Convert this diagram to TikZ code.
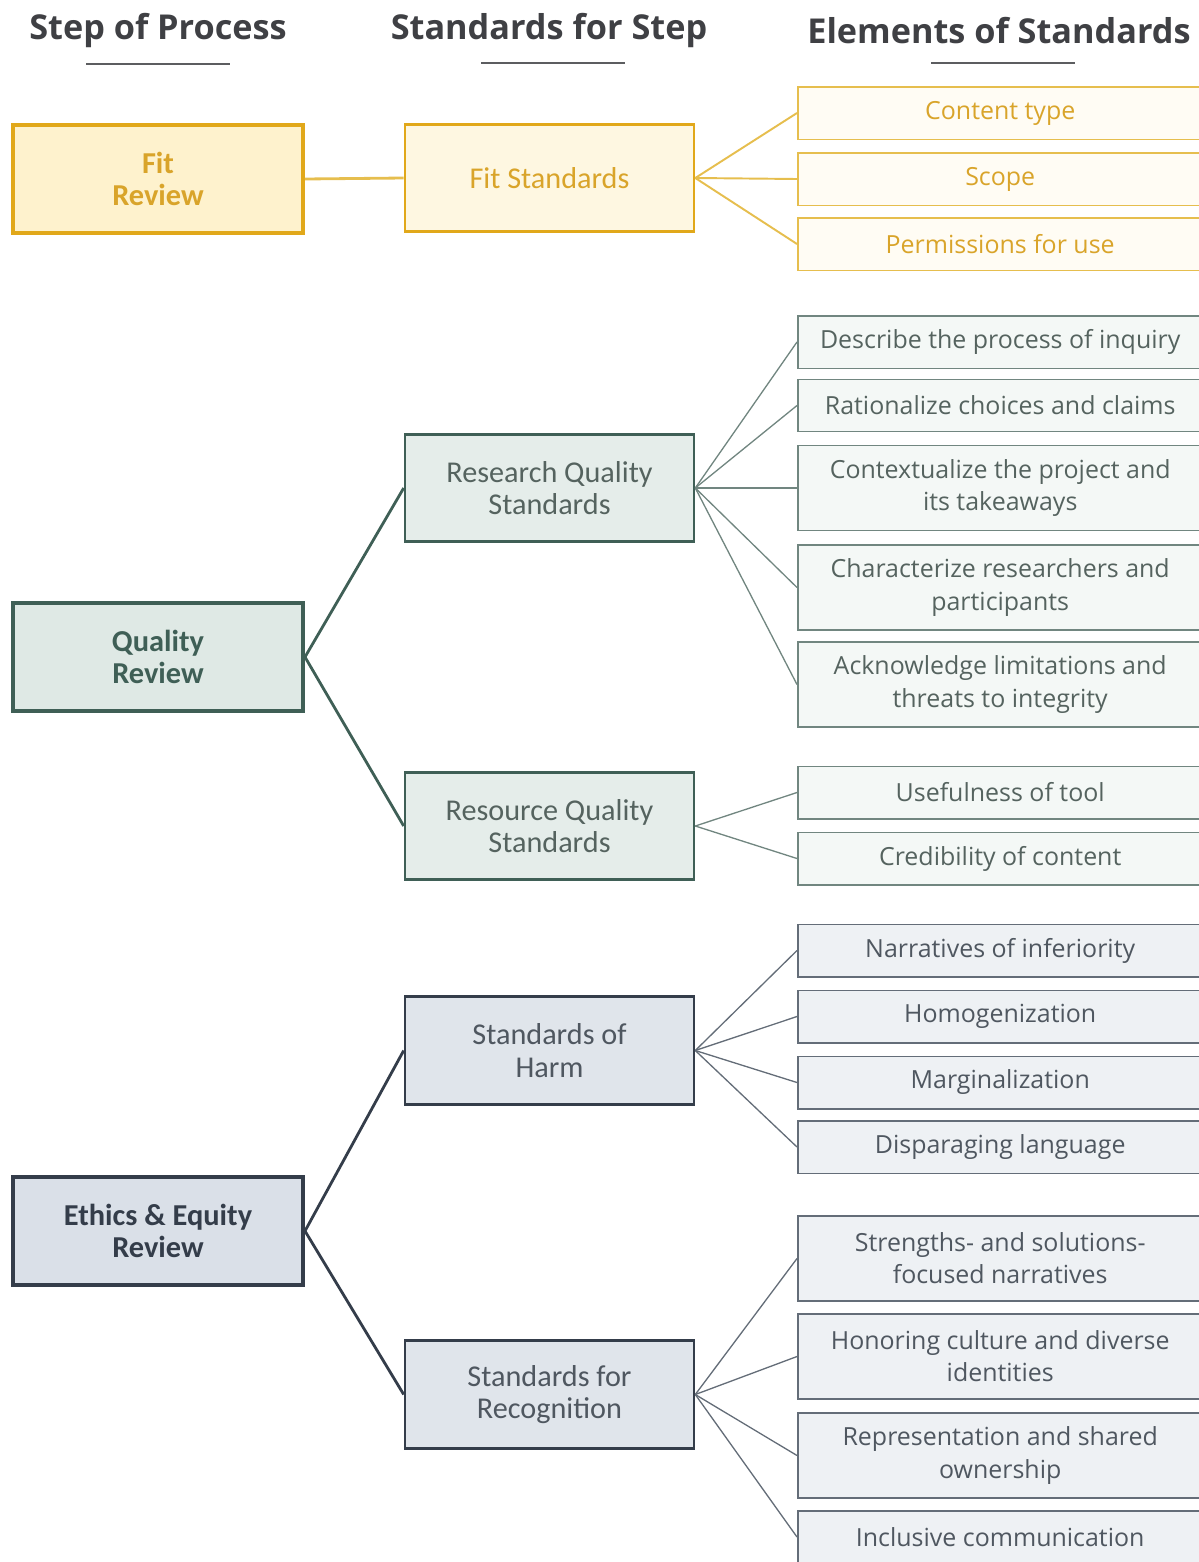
\documentclass[tikz,border=0pt]{standalone}
\usepackage{fontspec}
\setmainfont{Open Sans}
\newfontfamily\boxfont{Carlito}
\usetikzlibrary{calc}

\definecolor{headgray}{HTML}{3F4044}
\definecolor{fitdark}{HTML}{E1A81A}
\definecolor{fitfill}{HTML}{FEF2CD}
\definecolor{fittext}{HTML}{D9A42A}
\definecolor{fitline}{HTML}{E6BE4E}
\definecolor{fitpale}{HTML}{FFFCF4}
\definecolor{qdark}{HTML}{3F5F56}
\definecolor{qfill}{HTML}{DFE9E5}
\definecolor{qline}{HTML}{718680}
\definecolor{qpale}{HTML}{F4F8F6}
\definecolor{qtext}{HTML}{55635F}
\definecolor{edark}{HTML}{343D4A}
\definecolor{efill}{HTML}{DAE0E8}
\definecolor{eline}{HTML}{646D78}
\definecolor{epale}{HTML}{EEF1F4}
\definecolor{etext}{HTML}{4F5760}

\tikzset{
  header/.style={font=\fontsize{19.5}{23}\selectfont\bfseries, text=headgray},
  headrule/.style={draw=headgray!85, line width=1.1pt},
  stepbox/.style={rectangle, minimum width=5.8cm, minimum height=2.16cm,
    line width=2.3pt, align=center, inner sep=2pt,
    font=\boxfont\fontsize{17.3}{18.5}\selectfont\bfseries},
  stdbox/.style={rectangle, minimum width=5.78cm, minimum height=2.15cm,
    line width=1.5pt, align=center, inner sep=2pt,
    font=\boxfont\fontsize{17.2}{18.5}\selectfont},
  elembox/.style={rectangle, anchor=west, minimum width=8.1cm, minimum height=1.05cm,
    line width=0.85pt, align=center, inner sep=2pt,
    font=\fontsize{14.2}{18.3}\selectfont},
  tallbox/.style={elembox, minimum height=1.7cm},
  fitstep/.style={stepbox, draw=fitdark, fill=fitfill, text=fittext},
  fitstd/.style={stdbox, draw=fitdark, fill=fitfill!60, text=fittext},
  fitelem/.style={draw=fitline, fill=fitpale, text=fittext},
  qstep/.style={stepbox, draw=qdark, fill=qfill, text=qdark},
  qstd/.style={stdbox, draw=qdark, fill=qfill!80, text=qtext},
  qelem/.style={draw=qline, fill=qpale, text=qtext},
  estep/.style={stepbox, draw=edark, fill=efill, text=edark},
  estd/.style={stdbox, draw=edark, fill=efill!85, text=etext},
  eelem/.style={draw=eline, fill=epale, text=etext},
  fitlink/.style={draw=fitline, line width=1.1pt},
  qlink/.style={draw=qdark, line width=1.6pt},
  qthin/.style={draw=qline, line width=0.75pt},
  elink/.style={draw=edark, line width=1.6pt},
  ethin/.style={draw=eline, line width=0.75pt}
}

\begin{document}
\begin{tikzpicture}[x=0.02cm, y=-0.02cm]
  \useasboundingbox (0,0) rectangle (1199,1562);

  % column headings
  \node[header] (hstep) at (158,31) {Step of Process};
  \node[header] (hstd) at (549,31) {Standards for Step};
  \node[header] (helem) at (999,31) {Elements of Standards};
  \draw[headrule] (86,64) -- (230,64);
  \draw[headrule] (481,63) -- (625,63);
  \draw[headrule] (931,63) -- (1075,63);

  % fit review
  \node[fitstep] (fit) at (158,179) {Fit\\Review};
  \node[fitstd] (fitstd) at (549.5,178) {Fit Standards};
  \node[elembox, fitelem] (ctype) at (797,113) {Content type};
  \node[elembox, fitelem] (scope) at (797,179) {Scope};
  \node[elembox, fitelem] (perm) at (797,244) {Permissions for use};

  \draw[fitlink, line width=1.6pt] (fit.east) -- (fitstd.west);
  \draw[fitlink] (fitstd.east) -- (ctype.west);
  \draw[fitlink] (fitstd.east) -- (scope.west);
  \draw[fitlink] (fitstd.east) -- (perm.west);

  % quality review
  \node[qstep] (qual) at (158,657) {Quality\\Review};
  \node[qstd] (research) at (549.5,488) {Research Quality\\Standards};
  \node[qstd] (resource) at (549.5,826) {Resource Quality\\Standards};
  \node[elembox, qelem] (inquiry) at (797,342) {Describe the process of inquiry};
  \node[elembox, qelem] (rational) at (797,405.5) {Rationalize choices and claims};
  \node[tallbox, qelem] (context) at (797,488) {Contextualize the project and\\its takeaways};
  \node[tallbox, qelem] (charac) at (797,587.5) {Characterize researchers and\\participants};
  \node[tallbox, qelem] (limits) at (797,684.5) {Acknowledge limitations and\\threats to integrity};
  \node[elembox, qelem] (useful) at (797,792.5) {Usefulness of tool};
  \node[elembox, qelem] (cred) at (797,858.5) {Credibility of content};

  \draw[qlink] (qual.east) -- (research.west);
  \draw[qlink] (qual.east) -- (resource.west);
  \draw[qthin] (research.east) -- (inquiry.west);
  \draw[qthin] (research.east) -- (rational.west);
  \draw[qthin] (research.east) -- (context.west);
  \draw[qthin] (research.east) -- (charac.west);
  \draw[qthin] (research.east) -- (limits.west);
  \draw[qthin] (resource.east) -- (useful.west);
  \draw[qthin] (resource.east) -- (cred.west);

  % ethics and equity review
  \node[estep] (ethics) at (158,1231) {Ethics \& Equity\\Review};
  \node[estd] (harm) at (549.5,1050.5) {Standards of\\Harm};
  \node[estd] (recog) at (549.5,1394.5) {Standards for\\Recognition};
  \node[elembox, eelem] (inferior) at (797,950.5) {Narratives of inferiority};
  \node[elembox, eelem] (homog) at (797,1016.5) {Homogenization};
  \node[elembox, eelem] (margin) at (797,1082.5) {Marginalization};
  \node[elembox, eelem] (dispar) at (797,1147) {Disparaging language};
  \node[tallbox, eelem] (strength) at (797,1258.5) {Strengths- and solutions-\\focused narratives};
  \node[tallbox, eelem] (honor) at (797,1356.5) {Honoring culture and diverse\\identities};
  \node[tallbox, eelem] (repr) at (797,1455.5) {Representation and shared\\ownership};
  \node[elembox, eelem] (inclus) at (797,1537) {Inclusive communication};

  \draw[elink] (ethics.east) -- (harm.west);
  \draw[elink] (ethics.east) -- (recog.west);
  \draw[ethin] (harm.east) -- (inferior.west);
  \draw[ethin] (harm.east) -- (homog.west);
  \draw[ethin] (harm.east) -- (margin.west);
  \draw[ethin] (harm.east) -- (dispar.west);
  \draw[ethin] (recog.east) -- (strength.west);
  \draw[ethin] (recog.east) -- (honor.west);
  \draw[ethin] (recog.east) -- (repr.west);
  \draw[ethin] (recog.east) -- (inclus.west);
\end{tikzpicture}
\end{document}
